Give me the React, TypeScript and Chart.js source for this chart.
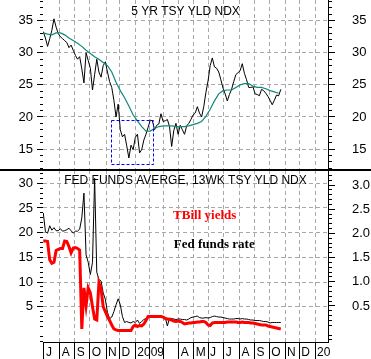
import React, { useEffect, useRef } from 'react';
import { Chart, registerables } from 'chart.js';

Chart.register(...registerables);

// ---- axis data (x unit = trading day since 1 Jul 2008) ----
const MONTH_START_DAYS = [0, 22, 43, 64, 87, 106, 128, 148, 167, 189, 210, 230, 252, 274, 295, 316, 338, 358, 380];
const MONTH_LABELS = ['J', 'A', 'S', 'O', 'N', 'D', '2009', '', '', 'A', 'M', 'J', 'J', 'A', 'S', 'O', 'N', 'D', '20'];
const X_MIN = -1.4;
const X_MAX = 398.2;

const SERIES_START_DAY = -1;
const DAILY_STEP = 3;
const MA_STEP = 6;

// ---- top panel: 5 yr treasury yield index and its moving average ----
const fiveYrYield = [
  33.3, 32.3, 31.0, 32.2, 33.5, 35.3, 34.0, 33.0, 32.5, 32.2,
  31.9, 31.6, 30.8, 31.2, 30.4, 29.6, 29.0, 29.4, 27.5, 25.3,
  30.0, 28.8, 27.6, 24.2, 26.6, 29.0, 27.0, 26.2, 28.0, 28.6,
  27.0, 25.5, 24.6, 22.6, 20.0, 22.0, 18.0, 16.9, 17.3, 15.5,
  13.6, 15.6, 14.9, 16.8, 17.3, 14.4, 14.9, 16.4, 17.3, 18.4,
  19.5, 19.4, 18.0, 18.7, 18.9, 20.5, 19.3, 19.4, 19.6, 18.5,
  15.4, 17.9, 19.0, 17.3, 18.7, 18.0, 17.3, 18.6, 19.0, 19.6,
  20.3, 20.6, 21.6, 20.6, 20.0, 21.6, 23.8, 25.6, 28.0, 29.2,
  27.8, 27.6, 27.0, 25.8, 24.5, 23.6, 22.5, 23.5, 24.3, 25.5,
  26.6, 26.9, 27.2, 28.3, 26.8, 25.8, 24.6, 24.6, 24.7, 23.6,
  23.5, 23.3, 24.3, 24.1, 23.7, 23.2, 22.6, 21.9, 22.6, 23.4,
  23.3, 24.3,
];
const fiveYrMA = [
  33.1, 32.9, 32.8, 33.1, 33.1, 32.8, 32.3, 31.9, 31.5, 31.0,
  30.4, 29.9, 29.4, 29.0, 28.5, 28.0, 27.0, 25.4, 24.1, 23.0,
  21.7, 20.3, 19.4, 18.5, 17.8, 17.8, 18.2, 18.5, 18.6, 18.6,
  18.6, 18.5, 18.5, 18.5, 18.6, 18.8, 19.0, 19.3, 20.1, 21.2,
  22.5, 23.6, 24.1, 24.2, 24.2, 24.6, 25.0, 25.2, 25.2, 24.8,
  24.6, 24.6, 24.4, 24.1, 23.9, 23.7,
];

// ---- bottom panel: fed funds average and 13 week T-bill yield index ----
const fedFunds = [
  24.0, 20.2, 19.9, 21.4, 20.5, 21.0, 20.4, 20.4, 20.8, 20.3,
  20.4, 20.6, 20.9, 20.4, 19.9, 20.3, 20.3, 20.7, 23.0, 28.0,
  15.5, 14.0, 11.5, 14.0, 31.0, 12.0, 10.5, 10.2, 7.8, 6.5,
  3.8, 2.6, 2.9, 4.0, 5.4, 6.6, 5.4, 3.0, 1.8, 2.0,
  1.8, 1.7, 2.0, 1.8, 2.3, 1.6, 2.0, 2.4, 2.6, 2.8,
  3.0, 2.9, 2.9, 2.9, 3.0, 3.1, 3.0, 2.8, 1.1, 2.7,
  2.6, 2.5, 2.4, 2.5, 2.5, 2.4, 2.4, 2.3, 2.5, 2.8,
  2.9, 3.0, 3.1, 2.8, 2.7, 2.7, 2.8, 2.7, 2.8, 3.0,
  3.1, 3.0, 2.9, 2.9, 2.8, 2.7, 2.6, 2.5, 2.5, 2.5,
  2.6, 2.6, 2.5, 2.6, 2.5, 2.5, 2.4, 2.3, 2.3, 2.2,
  2.2, 2.2, 2.1, 2.0, 2.0, 1.9, 1.7, 1.8, 1.8, 1.8,
  1.8, 1.8,
];
const tBill = [
  18.3, 18.3, 18.2, 14.5, 13.8, 14.0, 16.4, 16.6, 16.8, 16.8,
  18.3, 18.2, 17.2, 15.9, 16.9, 17.0, 16.8, 16.5, 0.5, 8.8,
  5.2, 8.8, 7.8, 5.0, 2.5, 2.3, 9.8, 8.6, 5.0, 4.0,
  3.0, 2.2, 1.3, 0.5, 0.3, 0.2, 0.2, 0.2, 0.2, 0.2,
  0.2, 0.2, 1.0, 1.3, 1.0, 1.2, 1.1, 1.5, 2.2, 3.0,
  3.0, 3.0, 3.0, 3.0, 3.0, 3.0, 2.9, 2.6, 2.5, 2.4,
  2.3, 2.1, 2.0, 2.1, 2.0, 1.8, 1.5, 1.6, 1.7, 1.7,
  1.8, 1.8, 1.9, 1.9, 2.0, 2.0, 1.8, 1.3, 1.2, 1.7,
  1.8, 1.8, 1.8, 1.8, 1.8, 1.8, 1.9, 1.9, 1.9, 1.9,
  1.9, 1.8, 1.8, 1.9, 1.8, 1.8, 1.8, 1.7, 1.7, 1.6,
  1.5, 1.4, 1.3, 1.3, 1.3, 1.1, 1.0, 0.9, 0.8, 0.7,
  0.6, 0.5,
];

const TOP_Y_TICKS = [15, 20, 25, 30, 35];
const BOT_Y_TICKS = [5, 10, 15, 20, 25, 30];
const BOT_R_TICKS = [0.5, 1.0, 1.5, 2.0, 2.5, 3.0];

// highlighted zone (box) in the top panel, in data units
const BOX_X = [93.9, 152.4];
const BOX_Y = [12.6, 19.5];

const SANS = "'Liberation Sans', Arial, sans-serif";
const SERIF = "'Liberation Serif', 'Times New Roman', serif";
const GRID = '#a8a8a8';
const TEAL = '#10887a';

const toXY = (vals: number[], step: number) =>
  vals.map((v, i) => ({ x: SERIES_START_DAY + i * step, y: v }));

const zeroPad = (s: any) => {
  s.paddingTop = 0; s.paddingBottom = 0; s.paddingLeft = 0; s.paddingRight = 0;
};
const setTicks = (vals: number[]) => (s: any) => { s.ticks = vals.map((v) => ({ value: v })); };

const decorPlugin = {
  id: 'decor',
  afterDraw(chart: any, _a: any, opts: any) {
    const { ctx, chartArea: area } = chart;
    ctx.save();
    ctx.setLineDash([]);
    ctx.strokeStyle = '#000';
    ctx.lineWidth = 1;
    (opts.minor || []).forEach((m: any) => {
      const sc = chart.scales[m.scale];
      for (let i = m.iMin; i <= m.iMax; i++) {
        if (i % m.majorEvery === 0) continue;
        const y = Math.round(sc.getPixelForValue(i * m.step) - 0.5) + 0.5;
        if (y < area.top || y > area.bottom) continue;
        const x0 = m.side === 'left' ? area.left - m.len : area.right;
        const x1 = m.side === 'left' ? area.left : area.right + m.len;
        ctx.beginPath(); ctx.moveTo(x0, y); ctx.lineTo(x1, y); ctx.stroke();
      }
    });
    if (opts.box) {
      const xs = chart.scales.x; const ys = chart.scales[opts.box.scale];
      const l = xs.getPixelForValue(opts.box.x[0]); const r = xs.getPixelForValue(opts.box.x[1]);
      const t = ys.getPixelForValue(opts.box.y[1]); const b = ys.getPixelForValue(opts.box.y[0]);
      ctx.strokeStyle = '#0000ff'; ctx.lineWidth = 1; ctx.setLineDash([3, 2]);
      ctx.strokeRect(Math.round(l) + 0.5, Math.round(t) + 0.5, Math.round(r - l), Math.round(b - t));
      ctx.setLineDash([]);
    }
    (opts.texts || []).forEach((t: any) => {
      ctx.font = t.font; ctx.fillStyle = t.color; ctx.textBaseline = 'alphabetic';
      if (t.center) {
        ctx.textAlign = 'center';
        ctx.fillText(t.text, (area.left + area.right) / 2, area.top + t.dy);
      } else {
        ctx.textAlign = 'left';
        ctx.fillText(t.text, chart.scales.x.getPixelForValue(t.x), chart.scales[t.scale].getPixelForValue(t.y));
      }
    });
    ctx.fillStyle = '#000';
    if (opts.sep === 'bottom') ctx.fillRect(0, chart.height - 1, chart.width, 1);
    if (opts.sep === 'top') ctx.fillRect(0, 0, chart.width, 1);
    ctx.restore();
  },
};

const xGridColor = (c: any) => (c.index === 0 ? 'rgba(0,0,0,0)' : GRID);

function topConfig(): any {
  return {
    type: 'line',
    data: {
      datasets: [
        { data: toXY(fiveYrMA, MA_STEP), borderColor: TEAL, borderWidth: 1.2, pointRadius: 0, tension: 0, yAxisID: 'y' },
        { data: toXY(fiveYrYield, DAILY_STEP), borderColor: '#000', borderWidth: 1, pointRadius: 0, tension: 0, yAxisID: 'y' },
      ],
    },
    options: {
      responsive: false, animation: false, events: [],
      layout: { padding: 0 },
      plugins: {
        legend: { display: false }, tooltip: { enabled: false },
        decor: {
          minor: [
            { scale: 'y', iMin: 11, iMax: 39, step: 1, majorEvery: 5, side: 'left', len: 3 },
            { scale: 'yR', iMin: 11, iMax: 39, step: 1, majorEvery: 5, side: 'right', len: 4 },
          ],
          box: { x: BOX_X, y: BOX_Y, scale: 'y' },
          texts: [{ text: '5 YR TSY YLD NDX', center: true, dy: 15, font: `12px ${SANS}`, color: '#000' }],
          sep: 'bottom',
        },
      },
      scales: {
        x: {
          type: 'linear', min: X_MIN, max: X_MAX, position: 'bottom',
          afterBuildTicks: setTicks(MONTH_START_DAYS),
          afterFit: (s: any) => { s.height = 0; zeroPad(s); },
          ticks: { display: false },
          grid: { color: xGridColor, drawTicks: false, lineWidth: 1 },
          border: { display: false, dash: [4, 3] },
        },
        y: {
          position: 'left', min: 11.73, max: 38.23,
          afterBuildTicks: setTicks(TOP_Y_TICKS),
          afterFit: (s: any) => { s.width = 43; zeroPad(s); },
          ticks: { font: { family: SANS, size: 13 }, color: '#000', padding: 4, callback: (v: number) => String(v) },
          grid: { color: GRID, tickColor: '#000', tickLength: 6, lineWidth: 1 },
          border: { display: false, dash: [4, 3] },
        },
        yR: {
          position: 'right', min: 11.73, max: 38.23,
          afterBuildTicks: setTicks(TOP_Y_TICKS),
          afterFit: (s: any) => { s.width = 43; zeroPad(s); },
          ticks: { font: { family: SANS, size: 13 }, color: '#000', padding: 17, callback: (v: number) => String(v) },
          grid: { drawOnChartArea: false, tickColor: '#000', tickLength: 7 },
          border: { display: true, color: '#000', width: 1 },
        },
      },
    },
    plugins: [decorPlugin],
  };
}

function bottomConfig(): any {
  return {
    type: 'line',
    data: {
      datasets: [
        { data: toXY(tBill, DAILY_STEP), borderColor: '#ff0000', borderWidth: 3, pointRadius: 0, tension: 0, yAxisID: 'y' },
        { data: toXY(fedFunds, DAILY_STEP), borderColor: '#000', borderWidth: 1, pointRadius: 0, tension: 0, yAxisID: 'y' },
      ],
    },
    options: {
      responsive: false, animation: false, events: [],
      layout: { padding: 0 },
      plugins: {
        legend: { display: false }, tooltip: { enabled: false },
        decor: {
          minor: [
            { scale: 'y', iMin: -3, iMax: 33, step: 1, majorEvery: 5, side: 'left', len: 3 },
            { scale: 'yR', iMin: -3, iMax: 34, step: 0.1, majorEvery: 5, side: 'right', len: 4 },
          ],
          texts: [
            { text: 'FED FUNDS AVERGE, 13WK TSY YLD NDX', center: true, dy: 14, font: `12px ${SANS}`, color: '#000' },
            { text: 'TBill yields', x: 181, y: 22.8, scale: 'y', font: `bold 13px ${SERIF}`, color: '#ff0000' },
            { text: 'Fed funds rate', x: 182, y: 16.9, scale: 'y', font: `bold 13px ${SERIF}`, color: '#000' },
          ],
          sep: 'top',
        },
      },
      scales: {
        x: {
          type: 'linear', min: X_MIN, max: X_MAX, position: 'bottom',
          afterBuildTicks: setTicks(MONTH_START_DAYS),
          afterFit: (s: any) => { s.height = 17; zeroPad(s); },
          ticks: {
            autoSkip: false, maxRotation: 0, minRotation: 0, align: 'start', labelOffset: 2, padding: -14,
            font: { family: SANS, size: 12 }, color: '#000',
            callback: (_v: number, i: number) => MONTH_LABELS[i],
          },
          grid: { color: xGridColor, tickColor: '#000', tickLength: 17, lineWidth: 1 },
          border: { display: true, color: '#000', width: 1, dash: [4, 3] },
        },
        y: {
          position: 'left', min: -2.15, max: 32.69,
          afterBuildTicks: setTicks(BOT_Y_TICKS),
          afterFit: (s: any) => { s.width = 43; zeroPad(s); },
          ticks: { font: { family: SANS, size: 13 }, color: '#000', padding: 4, callback: (v: number) => String(v) },
          grid: { color: GRID, tickColor: '#000', tickLength: 6, lineWidth: 1 },
          border: { display: false, dash: [4, 3] },
        },
        yR: {
          position: 'right', min: -0.244, max: 3.31,
          afterBuildTicks: setTicks(BOT_R_TICKS),
          afterFit: (s: any) => { s.width = 43; zeroPad(s); },
          ticks: { font: { family: SANS, size: 13 }, color: '#000', padding: 17, callback: (v: number) => v.toFixed(1) },
          grid: { drawOnChartArea: false, tickColor: '#000', tickLength: 7 },
          border: { display: true, color: '#000', width: 1 },
        },
      },
    },
    plugins: [decorPlugin],
  };
}

export default function App() {
  const topRef = useRef<HTMLCanvasElement>(null);
  const botRef = useRef<HTMLCanvasElement>(null);
  useEffect(() => {
    document.body.style.margin = '0';
    const top = new Chart(topRef.current as HTMLCanvasElement, topConfig());
    const bot = new Chart(botRef.current as HTMLCanvasElement, bottomConfig());
    return () => { top.destroy(); bot.destroy(); };
  }, []);
  return (
    <div style={{ width: 371, height: 359, background: '#fff' }}>
      <canvas ref={topRef} width={371} height={170} style={{ display: 'block', width: 371, height: 170 }} />
      <canvas ref={botRef} width={371} height={189} style={{ display: 'block', width: 371, height: 189 }} />
    </div>
  );
}
